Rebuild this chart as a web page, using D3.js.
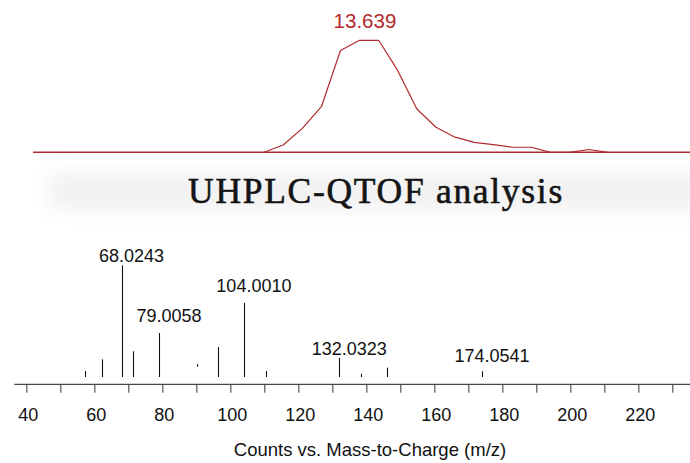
<!DOCTYPE html>
<html>
<head>
<meta charset="utf-8">
<script src="https://d3js.org/d3.v7.min.js"></script>
<style>
  body { margin: 0; background: #ffffff; }
  svg { display: block; }
</style>
</head>
<body>
<script>
// chromatogram (EIC) trace: retention time (min) and relative intensity (%)
const rtTimes = [13.375, 13.425, 13.475, 13.525, 13.575, 13.625, 13.675, 13.725, 13.775, 13.825,
                 13.875, 13.925, 13.975, 14.025, 14.075, 14.125, 14.175, 14.225, 14.275];
const rtIntensity = [0, 6.5, 21.4, 40.7, 90.9, 100, 100, 72.9, 38.7, 22.4,
                     13.5, 8.8, 6.8, 4.5, 4.5, 0, 0, 2.5, 0];
const rtDomain = [12.77, 14.49];
const rtPeakLabel = 13.639;

// mass spectrum: m/z, relative abundance (%), low end for the one floating mark
const specMz = [57.3, 62.2, 68.0243, 71.3, 79.0058, 90.3, 96.3, 104.0010, 110.4, 132.0323, 138.4, 146.2, 174.0541];
const specAbund = [5.4, 15.8, 100, 23, 39.4, 11.4, 26.9, 66.3, 5.4, 17, 3, 8.4, 5.1];
const specLow = [0, 0, 0, 0, 0, 9.2, 0, 0, 0, 0, 0, 0, 0];

// annotated peaks and the abundance level their labels sit at
const labelMz = [68.0243, 79.0058, 104.0010, 132.0323, 174.0541];
const labelText = ["68.0243", "79.0058", "104.0010", "132.0323", "174.0541"];
const labelLevel = [103, 49.5, 76.1, 19.7, 13.7];

// x axis
const mzDomain = [40, 230];
const mzTicks = d3.range(40, 231, 10);
const mzTickLabels = [40, 60, 80, 100, 120, 140, 160, 180, 200, 220];

const titleText = "UHPLC-QTOF analysis";
const axisTitle = "Counts vs. Mass-to-Charge (m/z)";

(function() {
  let svgContainer = "";
  const width = 690, height = 463;
  const red = "#b22a2e";

  window.onload = function() {
    svgContainer = d3.select("body").append("svg")
      .attr("width", width)
      .attr("height", height);

    drawChromatogram();
    drawTitleBand();
    drawSpectrum();
  };

  function drawChromatogram() {
    let x = d3.scaleLinear().domain(rtDomain).range([33, width]);
    let y = d3.scaleLinear().domain([0, 100]).range([152.3, 40.3]);

    // flat baseline across the whole window
    svgContainer.append("line")
      .attr("x1", x(rtDomain[0]))
      .attr("x2", x(rtDomain[1]))
      .attr("y1", y(0))
      .attr("y2", y(0))
      .attr("stroke", red)
      .attr("stroke-width", 1.4);

    let line = d3.line()
      .x((d, i) => x(rtTimes[i]))
      .y((d) => y(d));

    svgContainer.append("path")
      .datum(rtIntensity)
      .attr("d", line)
      .attr("fill", "none")
      .attr("stroke", red)
      .attr("stroke-width", 1.2)
      .attr("stroke-linejoin", "round");

    svgContainer.append("text")
      .attr("x", x(rtPeakLabel))
      .attr("y", 28)
      .attr("text-anchor", "middle")
      .style("font-family", "'Liberation Sans', Arial, sans-serif")
      .style("font-size", "20.5px")
      .attr("fill", red)
      .text(rtPeakLabel.toFixed(3));
  }

  function drawTitleBand() {
    let defs = svgContainer.append("defs");
    defs.append("filter")
      .attr("id", "soft")
      .attr("x", "-20%").attr("y", "-100%")
      .attr("width", "140%").attr("height", "300%")
      .append("feGaussianBlur")
      .attr("stdDeviation", 10);

    svgContainer.append("rect")
      .attr("x", 50)
      .attr("y", 173)
      .attr("width", 700)
      .attr("height", 36)
      .attr("fill", "#f1f1f1")
      .attr("filter", "url(#soft)");

    svgContainer.append("text")
      .attr("x", 376)
      .attr("y", 202.7)
      .attr("text-anchor", "middle")
      .style("font-family", "'Liberation Serif', 'Times New Roman', serif")
      .style("font-size", "35.5px")
      .style("letter-spacing", "1.7px")
      .attr("fill", "#141414")
      .attr("stroke", "#141414")
      .attr("stroke-width", 0.6)
      .text(titleText);
  }

  function drawSpectrum() {
    let x = d3.scaleLinear().domain(mzDomain).range([26.3, 672.3]);
    let y = d3.scaleLinear().domain([0, 100]).range([377, 265.3]);
    let axisY = 384.3;

    // sticks
    svgContainer.selectAll(".stick")
      .data(specMz)
      .enter()
      .append("line")
        .attr("class", "stick")
        .attr("x1", (d) => Math.round(x(d)) + 0.5)
        .attr("x2", (d) => Math.round(x(d)) + 0.5)
        .attr("y1", (d, i) => y(specLow[i]))
        .attr("y2", (d, i) => y(specAbund[i]))
        .attr("stroke", "#111")
        .attr("stroke-width", 1.1);

    // peak labels
    svgContainer.selectAll(".peak-label")
      .data(labelMz)
      .enter()
      .append("text")
        .attr("class", "peak-label")
        .attr("x", (d) => x(d) + 10)
        .attr("y", (d, i) => y(labelLevel[i]))
        .attr("text-anchor", "middle")
        .style("font-family", "'Liberation Sans', Arial, sans-serif")
        .style("font-size", "18px")
        .attr("fill", "#111")
        .text((d, i) => labelText[i]);

    // axis
    let xAxis = d3.axisBottom(x)
      .tickValues(mzTicks)
      .tickSize(8.5)
      .tickPadding(15)
      .tickFormat((d) => mzTickLabels.includes(d) ? d : "");

    let g = svgContainer.append("g")
      .attr("transform", "translate(0," + axisY + ")")
      .call(xAxis);

    g.select(".domain").remove();
    g.selectAll(".tick line")
      .attr("stroke", "#555")
      .attr("stroke-width", 1.2);
    g.selectAll(".tick text")
      .attr("dx", 1.5)
      .attr("fill", "#111")
      .style("font-family", "'Liberation Sans', Arial, sans-serif")
      .style("font-size", "18px");

    svgContainer.append("line")
      .attr("x1", x(36.5))
      .attr("x2", width)
      .attr("y1", axisY)
      .attr("y2", axisY)
      .attr("stroke", "#444")
      .attr("stroke-width", 1.3);

    svgContainer.append("text")
      .attr("x", 370)
      .attr("y", 456)
      .attr("text-anchor", "middle")
      .style("font-family", "'Liberation Sans', Arial, sans-serif")
      .style("font-size", "18.5px")
      .attr("fill", "#111")
      .text(axisTitle);
  }
})();
</script>
</body>
</html>
